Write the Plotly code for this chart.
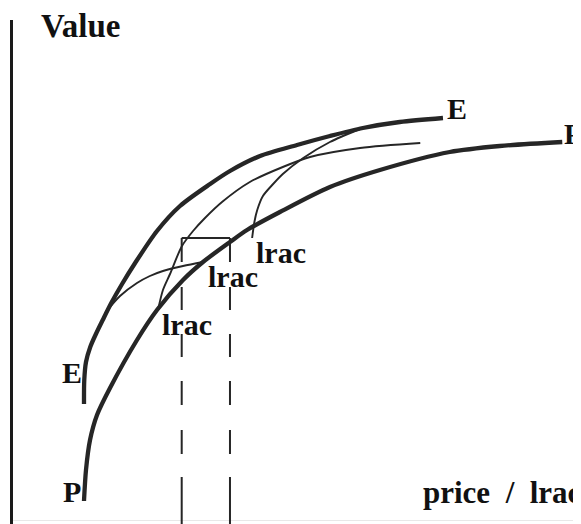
import plotly.graph_objects as go

# ---- data (price / lrac on x, Value on y) ----
P_price = [12.5, 12.85, 13.56, 14.79, 17.08, 21.83, 25.35, 29.93, 33.45, 38.2, 41.2, 47.0, 55.8, 64.6, 76.9, 85.7, 96.7]
P_value = [3.8, 10.0, 16.0, 21.0, 26.4, 36.0, 42.0, 48.0, 51.6, 55.6, 58.0, 61.6, 66.6, 70.0, 73.6, 74.8, 75.6]

E_price = [12.5, 12.55, 12.85, 13.6, 14.6, 15.8, 17.3, 19.2, 21.5, 25.35, 29.4, 34.7, 38.2, 43.5, 50.0, 55.8, 61.6, 68.1, 75.7]
E_value = [23.2, 28.0, 31.6, 34.6, 37.2, 40.0, 43.4, 47.2, 51.4, 57.8, 62.8, 67.2, 69.8, 72.8, 75.0, 76.8, 78.4, 79.6, 80.4]

A_price = [25.53, 26.4, 27.64, 29.75, 31.7, 33.8, 36.8, 41.7, 47.5, 52.3, 61.1, 71.7]
A_value = [42.0, 46.0, 49.2, 54.8, 57.8, 60.4, 63.6, 67.6, 70.6, 72.6, 74.4, 75.4]

B_price = [16.2, 18.84, 21.83, 24.1, 26.4, 29.93, 33.45]
B_value = [41.4, 44.8, 47.4, 48.8, 49.8, 50.8, 51.6]

C_price = [42.1, 42.5, 43.0, 44.0, 45.8, 47.5, 51.1, 55.8, 61.1]
C_value = [56.4, 59.6, 62.0, 64.8, 67.2, 69.2, 72.4, 75.6, 78.2]

lrac_prices = [29.7, 38.2]
lrac_level = 56.4

Y_MIN, Y_MAX = -0.8, 100
X_MIN, X_MAX = 0, 100

INK = "#262626"
FONT = "Liberation Serif, Times New Roman, serif"

fig = go.Figure()

def curve(x, y, w):
    fig.add_trace(go.Scatter(x=x, y=y, mode="lines",
                             line=dict(color=INK, width=w, shape="spline", smoothing=0.8),
                             hoverinfo="skip"))

curve(P_price, P_value, 4.3)
curve(E_price, E_value, 4.3)
curve(A_price, A_value, 1.9)
curve(B_price, B_value, 1.9)
curve(C_price, C_value, 1.9)

# rectangle top
fig.add_trace(go.Scatter(x=lrac_prices, y=[lrac_level, lrac_level], mode="lines",
                         line=dict(color=INK, width=2), hoverinfo="skip"))
# dashed verticals (drawn top to bottom)
for p in lrac_prices:
    fig.add_trace(go.Scatter(x=[p, p], y=[lrac_level, Y_MIN], mode="lines",
                             line=dict(color=INK, width=2,
                                       dash="24px,25px,23px,24px,23px,24px,24px,25px,24px,23px,60px"),
                             hoverinfo="skip"))

def label(text, x, y, size, xanchor="center"):
    fig.add_annotation(x=x, y=y, text=text, showarrow=False, xanchor=xanchor, yanchor="middle",
                       font=dict(family=FONT, size=size, color="#111"))

label("<b>Value</b>", 11.8, 98.8, 33)
label("<b>E</b>", 78.2, 82.4, 30)
label("<b>P</b>", 96.6, 77.2, 29, xanchor="left")
label("<b>E</b>", 10.4, 29.6, 30)
label("<b>P</b>", 10.4, 5.8, 30)
label("<b>lrac</b>", 47.2, 53.6, 30)
label("<b>lrac</b>", 38.7, 48.8, 30)
label("<b>lrac</b>", 30.6, 39.2, 30)
label("<b>price\u00a0 /\u00a0 lrac</b>", 71.8, 5.6, 31, xanchor="left")

# the page body adds an 8px offset; compensate in size and margins
fig.update_layout(
    width=573, height=516,
    margin=dict(l=5, r=0, t=12, b=0),
    paper_bgcolor="white", plot_bgcolor="white",
    showlegend=False,
    xaxis=dict(range=[X_MIN, X_MAX], showgrid=False, zeroline=False, showticklabels=False,
               showline=False, ticks=""),
    yaxis=dict(range=[Y_MIN, Y_MAX], showgrid=False, zeroline=True, zerolinecolor="#e8e8e8",
               zerolinewidth=1, showticklabels=False, showline=True, linecolor="#1a1a1a",
               linewidth=2.5, ticks=""),
)

fig.write_html("out.html")
